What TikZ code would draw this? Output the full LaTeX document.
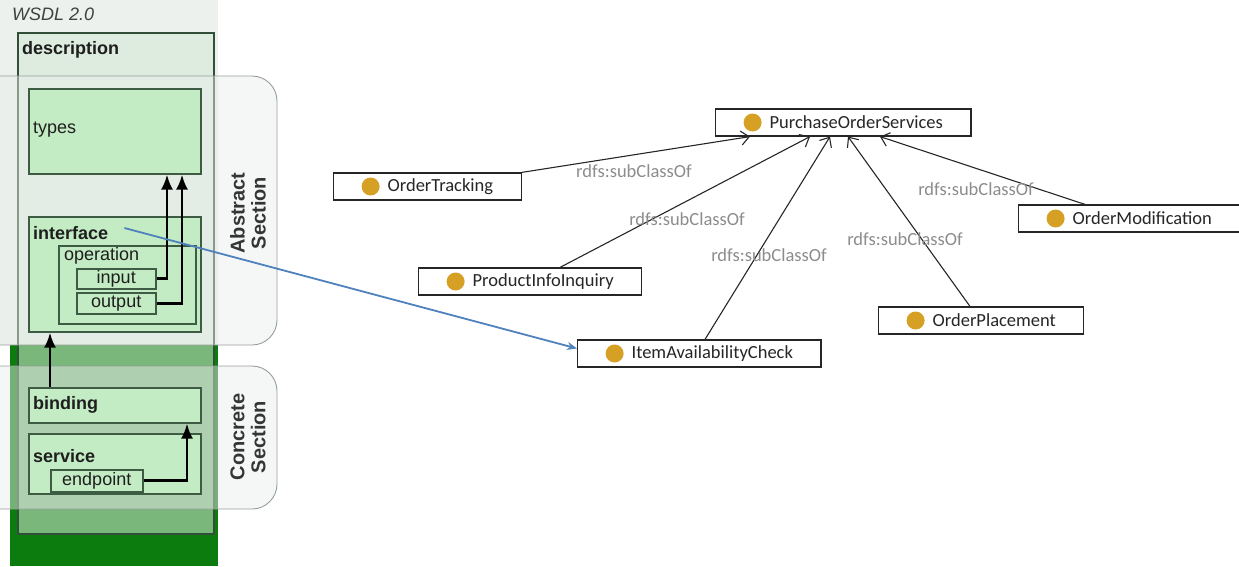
\documentclass[tikz,border=0pt]{standalone}
\usepackage{fontspec}
\setmainfont{Liberation Sans}
\newfontfamily\owlfont{Carlito}
\usetikzlibrary{arrows.meta,calc}
\definecolor{darkgreen}{RGB}{12,124,14}
\definecolor{colbg}{RGB}{236,241,237}
\definecolor{descfill}{RGB}{212,232,214}
\definecolor{descedge}{RGB}{50,78,56}
\definecolor{secfill}{RGB}{234,238,236}
\definecolor{secedge}{RGB}{150,158,152}
\definecolor{boxfill}{RGB}{196,236,196}
\definecolor{boxedge}{RGB}{62,92,68}
\definecolor{owlgold}{RGB}{214,160,36}
\definecolor{lblgray}{RGB}{140,140,140}
\definecolor{linkblue}{RGB}{79,129,189}
\definecolor{txtdark}{RGB}{30,30,30}
\begin{document}
\begin{tikzpicture}[x=1pt,y=-1pt,
  wbox/.style={draw=boxedge,fill=boxfill,line width=1.5pt,inner sep=0pt,anchor=north west},
  wtext/.style={font=\fontsize{18}{20}\selectfont,text=txtdark,inner sep=0pt,anchor=west},
  wbold/.style={wtext,font=\fontsize{18}{20}\selectfont\bfseries},
  sectext/.style={font=\fontsize{20}{21}\selectfont\bfseries,text=txtdark!90,align=center,rotate=90,inner sep=0pt},
  flow/.style={line width=2.8pt,-{Latex[length=15pt,width=12pt]}},
  secshape/.style={draw=secedge,fill=secfill,fill opacity=0.47,line width=0.9pt,rounded corners=25pt},
  owl/.style={draw=black!85,fill=white,line width=1.2pt,minimum height=27pt,inner xsep=28pt,inner ysep=0pt,anchor=west,
    font=\owlfont\fontsize{18.5}{20}\selectfont,text=black!85,
    path picture={\fill[owlgold] ([xshift=37pt]path picture bounding box.west) circle (9pt);}},
  sub/.style={draw=black!85,line width=1.1pt,-{Straight Barb[length=8pt,width=14pt]}},
  sublbl/.style={font=\owlfont\fontsize{18.5}{20}\selectfont,text=lblgray,inner sep=0pt}
]
\useasboundingbox (0,0) rectangle (1239,566);
\begin{scope}
\clip (0,0) rectangle (1239,566);
\fill[colbg] (0,0) rectangle (218,345);
\fill[darkgreen] (10,345) rectangle (218,566);
\node[draw=descedge,fill=descfill,fill opacity=0.55,line width=1.5pt,anchor=north west,
  minimum width=196pt,minimum height=501pt,inner sep=0pt] (desc) at (17,32) {};
\draw[secshape] (-40,76) rectangle (277,345);
\draw[secshape] (-40,366) rectangle (277,509);
\end{scope}

% WSDL boxes
\node[wbox,minimum width=172pt,minimum height=85pt] (types) at (28,88) {};
\node[wbox,minimum width=172pt,minimum height=115pt] (iface) at (28,216) {};
\node[wbox,minimum width=137pt,minimum height=78pt] (oper) at (58,245) {};
\node[wbox,minimum width=79pt,minimum height=20pt] (inp) at (76,268) {};
\node[wbox,minimum width=79pt,minimum height=21pt] (outp) at (76,292) {};
\node[wbox,minimum width=172pt,minimum height=35pt] (bind) at (28,387) {};
\node[wbox,minimum width=172pt,minimum height=60pt] (serv) at (28,433) {};
\node[wbox,minimum width=92pt,minimum height=22pt] (endp) at (50,469) {};

% texts
\node[wtext,font=\fontsize{18}{20}\selectfont\itshape,text=black!75] (title) at (12,14) {WSDL 2.0};
\node[wbold] (descl) at (22,50) {description};
\node[wtext] (typesl) at (33,130) {types};
\node[wbold] (ifacel) at (33,233) {interface};
\node[wtext] (operl) at (64,256) {operation};
\node[wtext,anchor=center] (inpl) at (inp.center) {input};
\node[wtext,anchor=center] (outpl) at (outp.center) {output};
\node[wbold] (bindl) at (33,405) {binding};
\node[wbold] (servl) at (33,456) {service};
\node[wtext,anchor=center] (endpl) at (endp.center) {endpoint};
\node[sectext] (abs) at (248,213) {Abstract\\Section};
\node[sectext] (con) at (248,437) {Concrete\\Section};

% WSDL arrows
\draw[flow] (inp.east) -| ($(types.south west)+(139,0)$);
\draw[flow] (outp.east) -| ($(types.south west)+(154,0)$);
\draw[flow] ($(bind.north west)+(22,0)$) -- ($(iface.south west)+(22,0)$);
\draw[flow] (endp.east) -| ($(bind.south west)+(159,0)$);

% ontology nodes
\node[owl] (pos) at (715,122.5) {\hspace*{26pt}PurchaseOrderServices};
\node[owl] (ot) at (333,186.5) {\hspace*{26pt}OrderTracking};
\node[owl] (pii) at (418,281.5) {\hspace*{26pt}ProductInfoInquiry};
\node[owl] (iac) at (577,353.5) {\hspace*{26pt}ItemAvailabilityCheck};
\node[owl] (op) at (878,320.5) {\hspace*{26pt}OrderPlacement};
\node[owl] (om) at (1018,218.5) {\hspace*{26pt}OrderModification};

\draw[sub] (ot.north east) -- ($(pos.south west)+(35,0)$);
\draw[sub] ($(pii.north west)+(142,0)$) -- ($(pos.south west)+(95,0)$);
\draw[sub] ($(iac.north west)+(128,0)$) -- ($(pos.south west)+(115,0)$);
\draw[sub] ($(op.north west)+(92,0)$) -- ($(pos.south west)+(133,0)$);
\draw[sub] ($(om.north west)+(67,0)$) -- ($(pos.south west)+(165,0)$);

\node[sublbl] (l1) at (634,171) {rdfs:subClassOf};
\node[sublbl] (l2) at (687,219) {rdfs:subClassOf};
\node[sublbl] (l3) at (769,255) {rdfs:subClassOf};
\node[sublbl] (l4) at (905,239) {rdfs:subClassOf};
\node[sublbl] (l5) at (976,189) {rdfs:subClassOf};

% link
\coordinate (lk) at ($(ifacel.east)+(16,-5)$);
\draw[linkblue,line width=1.8pt,-{Stealth[length=10pt,width=8pt]}] (lk) -- ($(iac.west)+(0,-5)$);
\end{tikzpicture}
\end{document}
